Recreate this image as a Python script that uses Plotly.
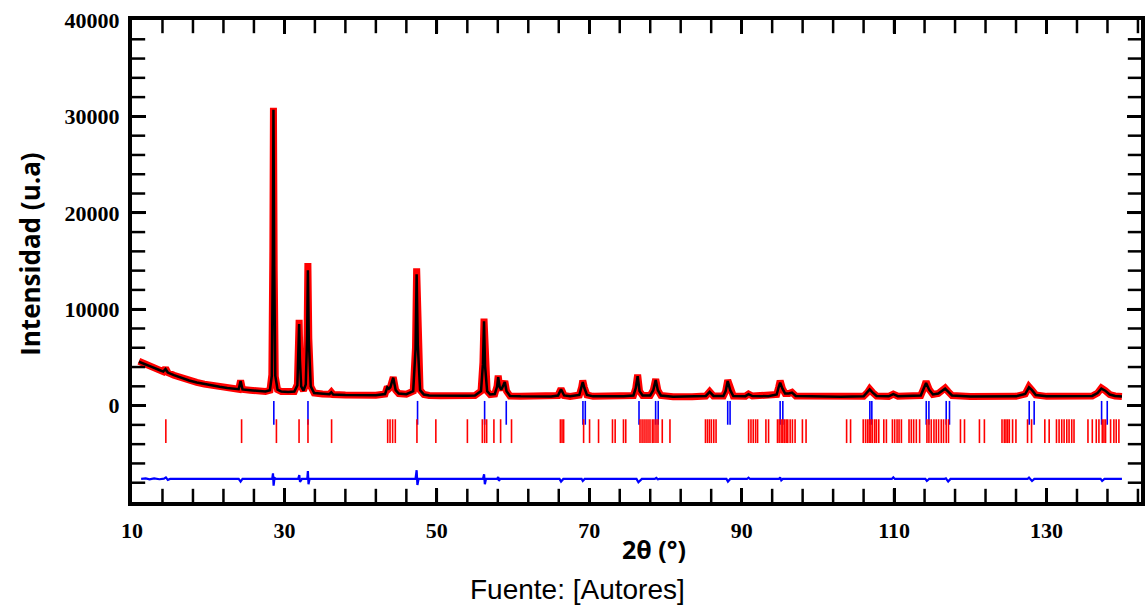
import plotly.graph_objects as go

# Observed / calculated diffraction profile (2theta in degrees, counts)
two_theta = [
    10.9, 11.5, 12.5, 13.5, 14.1, 14.4, 14.7, 15.5, 16.5, 17.5, 18.5, 19.5, 20.5, 21.5, 22.5, 23.5,
    24.0, 24.25, 24.5, 25.5, 26.5, 27.5, 28.1, 28.35, 28.48, 28.56, 28.66, 28.8, 29.1, 29.6, 30.5,
    31.3, 31.7, 31.85, 31.93, 32.03, 32.2, 32.5, 32.8, 32.98, 33.08, 33.2, 33.45, 33.9, 35.0, 35.9,
    36.15, 36.4, 38.0, 40.0, 42.0, 43.2, 43.5, 43.7, 43.9, 44.28, 44.6, 45.0, 46.0, 46.9, 47.2,
    47.35, 47.5, 47.8, 48.3, 49.0, 50.5, 52.5, 54.0, 55.0, 55.8, 56.05, 56.19, 56.33, 56.6, 57.0,
    57.6, 57.9, 58.05, 58.25, 58.45, 58.75, 58.92, 59.15, 59.6, 61.0, 63.0, 65.0, 65.9, 66.3, 66.7,
    67.5, 68.7, 69.0, 69.15, 69.35, 69.7, 70.5, 72.5, 74.5, 75.8, 76.1, 76.35, 76.6, 77.0, 78.0,
    78.4, 78.72, 79.0, 79.4, 81.0, 83.5, 85.3, 85.8, 86.3, 87.6, 87.9, 88.17, 88.5, 88.9, 90.5,
    90.9, 91.4, 93.5, 94.6, 94.85, 95.05, 95.35, 95.7, 96.2, 96.6, 97.1, 100.0, 103.0, 106.0,
    106.5, 106.8, 107.2, 107.7, 109.3, 109.9, 110.5, 113.5, 113.9, 114.2, 114.6, 115.1, 115.8,
    116.3, 116.7, 117.1, 117.6, 120.0, 123.0, 126.0, 127.2, 127.7, 128.1, 128.6, 130.0, 133.0,
    136.0, 136.7, 137.2, 137.7, 138.3, 139.0, 139.9,
]
y_obs = [
    4600, 4400, 4050, 3700, 3520, 3900, 3420, 3150, 2850, 2600, 2400, 2230, 2080, 1950, 1830, 1720,
    1700, 2600, 1680, 1600, 1520, 1460, 1600, 3200, 16000, 30900, 14000, 3000, 1650, 1450, 1400,
    1450, 2200, 5500, 8900, 5000, 2000, 1550, 2200, 7500, 14800, 7000, 2000, 1300, 1200, 1180,
    1400, 1150, 1100, 1060, 1080, 1200, 1950, 1750, 1900, 2950, 1600, 1250, 1180, 1500, 6000,
    14240, 6500, 1600, 1150, 1050, 1020, 1010, 1020, 1050, 1500, 4500, 9020, 4200, 1500, 1150,
    1200, 2000, 3100, 1900, 1650, 2200, 2550, 1500, 1000, 960, 950, 950, 1050, 1750, 1050,
    960, 1100, 1900, 2600, 1900, 1100, 960, 950, 970, 1050, 1800, 3200, 1500, 1050, 1050,
    1600, 2750, 1600, 1050, 930, 930, 1000, 1450, 1000, 1000, 1500, 2650, 1600, 1000, 980,
    1200, 990, 980, 1150, 1900, 2580, 1750, 1250, 1250, 1380, 1000, 930, 920, 960,
    1350, 1720, 1350, 1000, 960, 1200, 980, 1050, 1800, 2510, 1700, 1150, 1250,
    1500, 1820, 1450, 1050, 950, 950, 960, 1200, 1960, 1600, 1100, 960, 960,
    1000, 1300, 1820, 1550, 1150, 1000, 950,
]
y_calc = [
    4550, 4380, 4050, 3720, 3530, 3800, 3430, 3160, 2860, 2610, 2400, 2230, 2080, 1950, 1830, 1720,
    1700, 2550, 1680, 1600, 1520, 1460, 1600, 3100, 15500, 30700, 14500, 3100, 1650, 1450, 1400,
    1450, 2100, 5200, 8450, 4800, 2000, 1550, 2200, 7200, 14050, 6800, 2000, 1300, 1200, 1180,
    1380, 1150, 1100, 1060, 1080, 1200, 1900, 1750, 1900, 2900, 1600, 1250, 1180, 1500, 5800,
    13620, 6300, 1600, 1150, 1050, 1020, 1010, 1020, 1050, 1500, 4300, 8750, 4100, 1500, 1150,
    1200, 1950, 2950, 1900, 1650, 2150, 2450, 1500, 1000, 960, 950, 950, 1050, 1700, 1050,
    960, 1100, 1850, 2450, 1850, 1100, 960, 950, 970, 1050, 1800, 3050, 1500, 1050, 1050,
    1600, 2650, 1600, 1050, 930, 930, 1000, 1420, 1000, 1000, 1500, 2550, 1600, 1000, 980,
    1180, 990, 980, 1150, 1900, 2380, 1750, 1250, 1250, 1350, 1000, 930, 920, 960,
    1350, 1680, 1350, 1000, 960, 1180, 980, 1050, 1800, 2350, 1650, 1150, 1250,
    1500, 1750, 1450, 1050, 950, 950, 960, 1200, 1900, 1600, 1100, 960, 960,
    1000, 1300, 1770, 1550, 1150, 1000, 950,
]

# Difference curve (obs - calc), drawn on its offset baseline
diff_theta = [
    11.2, 11.8, 12.3, 12.9, 13.6, 14.2, 14.45, 14.7, 15.0,
    24.0, 24.25, 24.5,
    28.4, 28.5, 28.58, 28.7, 28.9,
    31.8, 31.95, 32.05, 32.3,
    33.0, 33.08, 33.16, 33.3,
    47.2, 47.35, 47.45, 47.6,
    56.05, 56.2, 56.3, 56.45,
    57.9, 58.05, 58.15, 58.3,
    66.1, 66.3, 66.6,
    69.0, 69.15, 69.4,
    76.2, 76.45, 76.7, 76.9,
    78.6, 78.8, 79.0, 79.2,
    88.0, 88.2, 88.5,
    90.7, 90.9, 91.1,
    94.9, 95.05, 95.2, 95.4,
    109.7, 109.9, 110.1,
    114.1, 114.3, 114.6,
    116.6, 116.8, 117.1, 117.4,
    127.5, 127.7, 128.1, 128.4,
    137.1, 137.3, 137.6,
    139.9,
]
diff_vals = [
    -7600, -7550, -7650, -7560, -7640, -7580, -7450, -7700, -7610,
    -7610, -7880, -7610,
    -7610, -7030, -8300, -7500, -7610,
    -7610, -7200, -7900, -7610,
    -7610, -6790, -8160, -7610,
    -7610, -6700, -8240, -7610,
    -7610, -7130, -8160, -7610,
    -7610, -7400, -7800, -7610,
    -7610, -7880, -7610,
    -7610, -7820, -7610,
    -7610, -7950, -7700, -7610,
    -7610, -7500, -7650, -7610,
    -7610, -7880, -7610,
    -7610, -7470, -7610,
    -7610, -7450, -7750, -7610,
    -7610, -7440, -7610,
    -7610, -7820, -7610,
    -7610, -7540, -7880, -7610,
    -7610, -7470, -7820, -7610,
    -7610, -7820, -7610,
    -7610,
]

# Bragg reflection positions, phase 1 (blue) and phase 2 (red)
bragg_phase1 = [
    28.61, 33.09, 47.47, 56.27, 59.11, 69.17, 69.48, 76.53, 78.71, 79.05, 88.17, 88.48,
    95.05, 95.40, 106.82, 107.08, 114.22, 114.57, 116.84, 117.27, 127.73, 128.38, 137.23, 137.97,
]
bragg_phase2 = [
    14.44, 24.38, 28.95, 31.92, 33.09, 36.19, 43.55, 43.86, 44.20, 44.55, 47.39, 49.87, 54.01,
    55.97, 56.27, 56.54, 57.49, 58.37, 59.80, 66.21, 66.43, 66.64, 69.26, 70.04, 71.22, 73.05,
    73.40, 74.49, 74.79, 76.66, 76.93, 77.19, 77.45, 77.71, 77.97, 78.28, 78.49, 78.76, 79.02,
    79.58, 80.59, 85.25, 85.51, 85.77, 86.03, 86.34, 86.64, 90.91, 91.22, 91.52, 91.83, 92.09,
    93.18, 93.53, 94.70, 94.92, 95.18, 95.40, 95.62, 95.84, 96.05, 96.36, 96.66, 97.01, 97.97,
    98.45, 103.77, 104.29, 105.95, 106.25, 106.51, 106.73, 106.95, 107.17, 107.47, 107.69,
    107.99, 108.65, 108.99, 109.78, 110.08, 110.39, 110.65, 110.96, 111.96, 112.26, 112.57,
    112.92, 113.35, 114.31, 114.57, 114.88, 115.23, 115.53, 115.84, 116.19, 116.49, 116.84,
    117.14, 118.71, 119.24, 121.20, 121.85, 124.16, 124.46, 124.68, 124.90, 125.12, 125.55,
    125.99, 127.51, 128.04, 129.78, 130.35, 131.31, 131.65, 132.00, 132.31, 132.66, 132.96,
    133.31, 133.61, 135.44, 136.01, 136.53, 136.88, 137.32, 137.54, 137.75, 138.41, 138.84,
    139.15, 139.50,
]

# Axis ticks and frame
x_major = [10, 30, 50, 70, 90, 110, 130]
y_major = [0, 10000, 20000, 30000, 40000]
X_RANGE = [10, 142.4]
Y_RANGE = [-10000, 40000]
X_MINOR_STEP = 4
Y_MINOR_STEP = 2000

W, H = 1145, 605
MARGIN = dict(l=132, r=0, t=20, b=103)
PLOT_W = W - MARGIN["l"] - MARGIN["r"]
PLOT_H = H - MARGIN["t"] - MARGIN["b"]

RED = "#ff0000"
BLUE = "#0000ff"

fig = go.Figure()

fig.add_trace(go.Scatter(x=two_theta, y=y_obs, mode="lines",
                         line=dict(color=RED, width=7), name="Yobs"))
fig.add_trace(go.Scatter(x=two_theta, y=y_calc, mode="lines",
                         line=dict(color="black", width=2.5), name="Ycalc"))

fig.add_trace(go.Scatter(x=bragg_phase1, y=[-750] * len(bragg_phase1), mode="markers",
                         marker=dict(symbol="line-ns", size=17, line=dict(color=BLUE, width=1.6)),
                         name="Fase 1"))
fig.add_trace(go.Scatter(x=bragg_phase2, y=[-2650] * len(bragg_phase2), mode="markers",
                         marker=dict(symbol="line-ns", size=17, line=dict(color=RED, width=1.6)),
                         name="Fase 2"))

fig.add_trace(go.Scatter(x=diff_theta, y=diff_vals, mode="lines",
                         line=dict(color=BLUE, width=2.2), name="Yobs-Ycalc"))

# Minor tick marks on all four sides of the frame, as short line markers
# centred half a tick length inside each edge
minor_len_px = 11
half_dx = 0.5 * minor_len_px * (X_RANGE[1] - X_RANGE[0]) / PLOT_W
half_dy = 0.5 * minor_len_px * (Y_RANGE[1] - Y_RANGE[0]) / PLOT_H
minor_x = [X_RANGE[0] + X_MINOR_STEP * k for k in range(1, 34)]
minor_y = [Y_RANGE[0] + Y_MINOR_STEP * k for k in range(1, 25)]
minor_marker_v = dict(symbol="line-ns", size=minor_len_px, line=dict(color="black", width=2.5))
minor_marker_h = dict(symbol="line-ew", size=minor_len_px, line=dict(color="black", width=2.5))
fig.add_trace(go.Scatter(x=minor_x + minor_x,
                         y=[Y_RANGE[0] + half_dy] * len(minor_x) + [Y_RANGE[1] - half_dy] * len(minor_x),
                         mode="markers", marker=minor_marker_v, cliponaxis=False,
                         hoverinfo="skip", name="minor x"))
fig.add_trace(go.Scatter(x=[X_RANGE[0] + half_dx] * len(minor_y) + [X_RANGE[1] - half_dx] * len(minor_y),
                         y=minor_y + minor_y,
                         mode="markers", marker=minor_marker_h, cliponaxis=False,
                         hoverinfo="skip", name="minor y"))

tick_font = dict(family="Liberation Serif", size=22, color="black", weight="bold")

fig.update_layout(
    xaxis=dict(
        range=X_RANGE, tickmode="array", tickvals=x_major, ticktext=[str(v) for v in x_major],
        ticks="inside", ticklen=14, tickwidth=3, tickcolor="black",
        showline=True, linewidth=4, linecolor="black", mirror="ticks",
        showgrid=False, zeroline=False, tickfont=tick_font, ticklabelstandoff=6,
    ),
    yaxis=dict(
        range=Y_RANGE, tickmode="array", tickvals=y_major, ticktext=[str(v) for v in y_major],
        ticks="inside", ticklen=14, tickwidth=3, tickcolor="black",
        showline=True, linewidth=4, linecolor="black", mirror="ticks",
        showgrid=False, zeroline=False, tickfont=tick_font, ticklabelstandoff=4,
    ),
)

fig.add_annotation(text="Intensidad (u.a)", xref="paper", yref="paper",
                   x=-0.101, y=0.513, xanchor="center", yanchor="middle",
                   textangle=-90, showarrow=False,
                   font=dict(family="Open Sans", size=26, color="black", weight="bold"))
fig.add_annotation(text="2θ (°)", xref="paper", yref="paper",
                   x=0.517, y=-0.097, xanchor="center", yanchor="middle", showarrow=False,
                   font=dict(family="Open Sans", size=25, color="black", weight="bold"))
fig.add_annotation(text="Fuente: [Autores]", xref="paper", yref="paper",
                   x=0.442, y=-0.181, xanchor="center", yanchor="middle", showarrow=False,
                   font=dict(family="Liberation Sans", size=28, color="black"))

fig.update_layout(
    width=W, height=H,
    margin=MARGIN,
    paper_bgcolor="white", plot_bgcolor="white",
    showlegend=False,
)

fig.write_html("out.html")
